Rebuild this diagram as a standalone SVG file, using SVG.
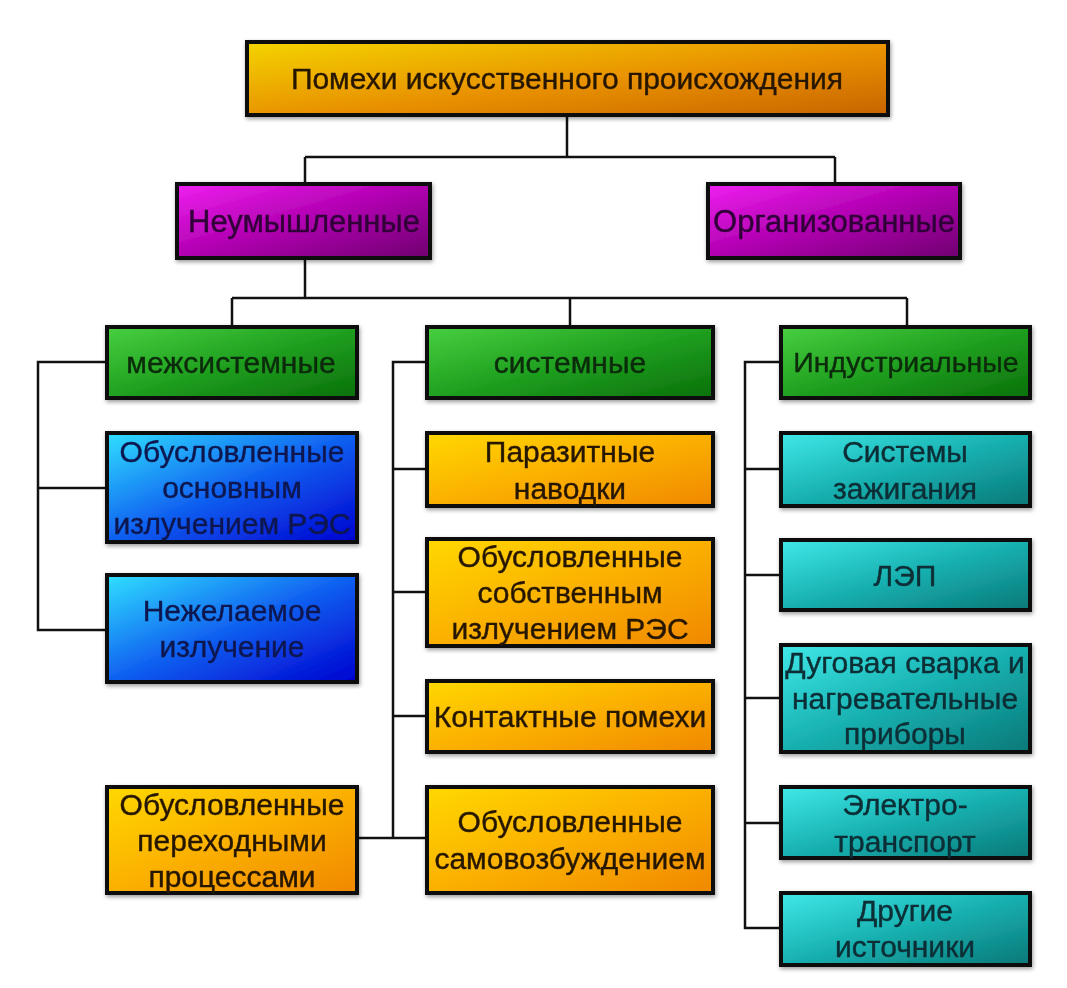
<svg xmlns="http://www.w3.org/2000/svg" width="1067" height="988" viewBox="0 0 1067 988">
<defs>
<linearGradient id="gTop" x1="0" y1="0" x2="1" y2="1"><stop offset="0" stop-color="#f4d400"/><stop offset="0.55" stop-color="#e89000"/><stop offset="1" stop-color="#c86400"/></linearGradient>
<linearGradient id="gPur" x1="0" y1="0" x2="1" y2="1"><stop offset="0" stop-color="#f020f0"/><stop offset="0.5" stop-color="#b000b0"/><stop offset="1" stop-color="#700070"/></linearGradient>
<linearGradient id="gGrn" x1="0" y1="0" x2="1" y2="1"><stop offset="0" stop-color="#48d040"/><stop offset="0.5" stop-color="#20a020"/><stop offset="1" stop-color="#0a700a"/></linearGradient>
<linearGradient id="gBlu" x1="0" y1="0" x2="1" y2="1"><stop offset="0" stop-color="#30e0ff"/><stop offset="0.5" stop-color="#1060f0"/><stop offset="1" stop-color="#0000d0"/></linearGradient>
<linearGradient id="gOrg" x1="0" y1="0" x2="1" y2="1"><stop offset="0" stop-color="#ffd800"/><stop offset="0.5" stop-color="#fbb000"/><stop offset="1" stop-color="#f08800"/></linearGradient>
<linearGradient id="gTeal" x1="0" y1="0" x2="1" y2="1"><stop offset="0" stop-color="#40e8e8"/><stop offset="0.5" stop-color="#18b0b0"/><stop offset="1" stop-color="#0a7878"/></linearGradient>
<filter id="sh" x="-10%" y="-10%" width="120%" height="130%"><feGaussianBlur in="SourceAlpha" stdDeviation="2"/><feOffset dx="1" dy="2"/><feComponentTransfer><feFuncA type="linear" slope="0.4"/></feComponentTransfer><feMerge><feMergeNode/><feMergeNode in="SourceGraphic"/></feMerge></filter>
</defs>
<style>
.b{stroke:#111;stroke-width:4}
text{font-family:"Liberation Sans",Arial,sans-serif;font-size:30px;text-anchor:middle;dominant-baseline:central;stroke-width:0.4}
.tTop{fill:#281800;stroke:#281800}
.tPur{fill:#300038;stroke:#300038;font-size:31px}
.tGrn{fill:#082c08;stroke:#082c08}
.tBlu{fill:#0a1850;stroke:#0a1850}
.tOrg{fill:#261800;stroke:#261800}
.tTeal{fill:#082e36;stroke:#082e36}
.c{fill:none;stroke:#111;stroke-width:2.5}
</style>
<rect width="1067" height="988" fill="#fff"/>
<g id="connectors" class="c">
<path d="M567 115V157M305 157H835M305 157V184M835 157V184"/>
<path d="M305 258V298M232 298H907M232 298V327M570 298V327M907 298V327"/>
<path d="M107 362H38V630H107M38 488H107"/>
<path d="M427 362H393V838H427M393 469H427M393 592H427M393 716H427M357 838H393"/>
<path d="M781 362H745V928H781M745 469H781M745 575H781M745 698H781M745 823H781"/>
</g>
<g id="n-top" filter="url(#sh)"><rect class="b" x="247" y="42" width="641" height="73" fill="url(#gTop)"/><text class="tTop" x="567" y="78">Помехи искусственного происхождения</text></g>
<g id="n-neum" filter="url(#sh)"><rect class="b" x="177" y="184" width="253" height="74" fill="url(#gPur)"/><text class="tPur" x="304" y="221">Неумышленные</text></g>
<g id="n-org" filter="url(#sh)"><rect class="b" x="708" y="184" width="252" height="74" fill="url(#gPur)"/><text class="tPur" x="834" y="221">Организованные</text></g>
<g id="n-mezh" filter="url(#sh)"><rect class="b" x="107" y="327" width="250" height="71" fill="url(#gGrn)"/><text class="tGrn" x="231" y="362">межсистемные</text></g>
<g id="n-sys" filter="url(#sh)"><rect class="b" x="427" y="327" width="286" height="71" fill="url(#gGrn)"/><text class="tGrn" x="570" y="362">системные</text></g>
<g id="n-ind" filter="url(#sh)"><rect class="b" x="781" y="327" width="249" height="71" fill="url(#gGrn)"/><text class="tGrn" x="906" y="362" style="font-size:28.5px">Индустриальные</text></g>
<g id="n-osn" filter="url(#sh)"><rect class="b" x="107" y="433" width="250" height="109" fill="url(#gBlu)"/><text class="tBlu" x="232" y="451">Обусловленные</text><text class="tBlu" x="232" y="487">основным</text><text class="tBlu" x="232" y="523">излучением РЭС</text></g>
<g id="n-nezh" filter="url(#sh)"><rect class="b" x="107" y="575" width="250" height="107" fill="url(#gBlu)"/><text class="tBlu" x="232" y="610">Нежелаемое</text><text class="tBlu" x="232" y="646">излучение</text></g>
<g id="n-perekh" filter="url(#sh)"><rect class="b" x="107" y="787" width="250" height="106" fill="url(#gOrg)"/><text class="tOrg" x="232" y="804">Обусловленные</text><text class="tOrg" x="232" y="840">переходными</text><text class="tOrg" x="232" y="876">процессами</text></g>
<g id="n-paraz" filter="url(#sh)"><rect class="b" x="427" y="433" width="286" height="73" fill="url(#gOrg)"/><text class="tOrg" x="570" y="451">Паразитные</text><text class="tOrg" x="570" y="488">наводки</text></g>
<g id="n-sobstv" filter="url(#sh)"><rect class="b" x="427" y="539" width="286" height="107" fill="url(#gOrg)"/><text class="tOrg" x="570" y="556">Обусловленные</text><text class="tOrg" x="570" y="592">собственным</text><text class="tOrg" x="570" y="628">излучением РЭС</text></g>
<g id="n-kont" filter="url(#sh)"><rect class="b" x="427" y="681" width="286" height="71" fill="url(#gOrg)"/><text class="tOrg" x="570" y="716">Контактные помехи</text></g>
<g id="n-samov" filter="url(#sh)"><rect class="b" x="427" y="787" width="286" height="106" fill="url(#gOrg)"/><text class="tOrg" x="570" y="821">Обусловленные</text><text class="tOrg" x="570" y="858">самовозбуждением</text></g>
<g id="n-zazh" filter="url(#sh)"><rect class="b" x="781" y="433" width="249" height="73" fill="url(#gTeal)"/><text class="tTeal" x="905" y="451">Системы</text><text class="tTeal" x="905" y="488">зажигания</text></g>
<g id="n-lep" filter="url(#sh)"><rect class="b" x="781" y="540" width="249" height="70" fill="url(#gTeal)"/><text class="tTeal" x="905" y="575">ЛЭП</text></g>
<g id="n-duga" filter="url(#sh)"><rect class="b" x="781" y="645" width="249" height="107" fill="url(#gTeal)"/><text class="tTeal" x="905" y="662">Дуговая сварка и</text><text class="tTeal" x="905" y="698">нагревательные</text><text class="tTeal" x="905" y="733">приборы</text></g>
<g id="n-elektro" filter="url(#sh)"><rect class="b" x="781" y="787" width="249" height="71" fill="url(#gTeal)"/><text class="tTeal" x="905" y="804">Электро-</text><text class="tTeal" x="905" y="841">транспорт</text></g>
<g id="n-drugie" filter="url(#sh)"><rect class="b" x="781" y="893" width="249" height="72" fill="url(#gTeal)"/><text class="tTeal" x="905" y="910">Другие</text><text class="tTeal" x="905" y="946">источники</text></g>
</svg>
